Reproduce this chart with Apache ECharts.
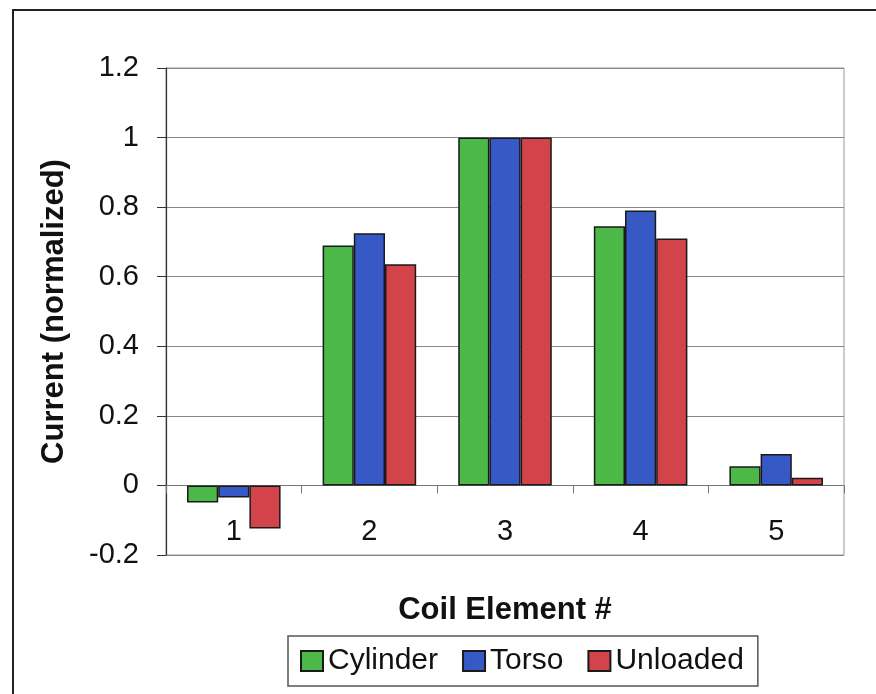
<!DOCTYPE html>
<html>
<head>
<meta charset="utf-8">
<script src="https://cdn.jsdelivr.net/npm/echarts@6/dist/echarts.min.js"></script>
<style>html,body{margin:0;padding:0;background:#fff}#c{width:876px;height:694px}</style>
</head>
<body>
<div id="c"></div>
<script>
var categories = ['1', '2', '3', '4', '5'];
var cylinder = [-0.049, 0.69, 1.0, 0.745, 0.055];
var torso = [-0.035, 0.725, 1.0, 0.79, 0.09];
var unloaded = [-0.124, 0.636, 1.0, 0.71, 0.022];
var seriesNames = ['Cylinder', 'Torso', 'Unloaded'];
var colors = ['#4cb848', '#3659c6', '#d2434a'];

var font = 'Liberation Sans, Arial, sans-serif';
var chart = echarts.init(document.getElementById('c'), null, {renderer: 'canvas'});
function mk(name, data, color) {
  return {
    name: name, type: 'bar', data: data, barGap: '0%', barCategoryGap: '31%',
    itemStyle: {color: color, borderColor: '#1a1a1a', borderWidth: 1.5},
    emphasis: {disabled: true}
  };
}
chart.setOption({
  animation: false,
  color: colors,
  graphic: [{
    type: 'rect', shape: {x: 13, y: 10, width: 900, height: 720},
    style: {fill: 'none', stroke: '#222', lineWidth: 2}, z: 0
  }],
  grid: {left: 166, right: 32, top: 68, bottom: 139, show: true, borderColor: '#999', borderWidth: 1},
  legend: {
    data: seriesNames, left: 288, top: 636, orient: 'horizontal',
    itemWidth: 22, itemHeight: 20, itemGap: 24,
    padding: [10, 14, 10, 12],
    borderColor: '#555', borderWidth: 1.5,
    textStyle: {fontFamily: font, fontSize: 30, color: '#111'},
    icon: 'rect'
  },
  xAxis: {
    type: 'category', data: categories,
    axisLine: {onZero: true, lineStyle: {color: '#777', width: 1.2}},
    axisTick: {show: true, length: 8, lineStyle: {color: '#777'}},
    axisLabel: {fontFamily: font, fontSize: 29, color: '#111', margin: -38},
    name: 'Coil Element #', nameLocation: 'middle', nameGap: 40,
    nameTextStyle: {fontFamily: font, fontSize: 31, fontWeight: 'bold', color: '#111'}
  },
  yAxis: {
    type: 'value', min: -0.2, max: 1.2, interval: 0.2,
    axisLine: {show: true, lineStyle: {color: '#333', width: 1.2}},
    axisTick: {show: true, length: 9, lineStyle: {color: '#333'}},
    axisLabel: {fontFamily: font, fontSize: 29, color: '#111', margin: 27,
      formatter: function (v) { return String(Math.round(v * 10) / 10); }},
    splitLine: {show: true, lineStyle: {color: '#888', width: 1}},
    name: 'Current (normalized)', nameLocation: 'middle', nameGap: 96,
    nameTextStyle: {fontFamily: font, fontSize: 31, fontWeight: 'bold', color: '#111'}
  },
  series: [
    mk(seriesNames[0], cylinder, colors[0]),
    mk(seriesNames[1], torso, colors[1]),
    mk(seriesNames[2], unloaded, colors[2])
  ]
});
</script>
</body>
</html>
